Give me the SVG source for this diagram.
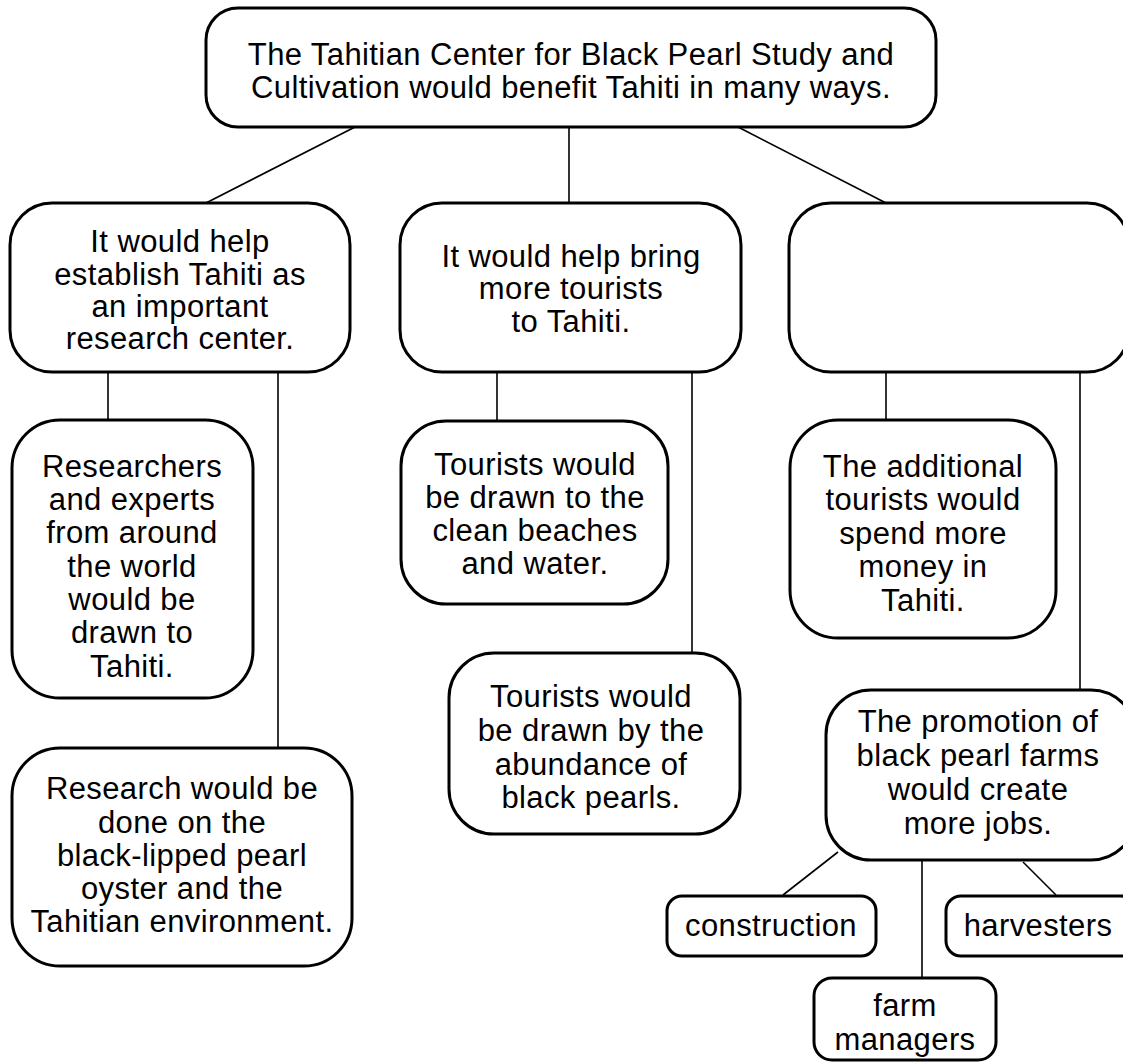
<svg xmlns="http://www.w3.org/2000/svg" width="1123" height="1063" viewBox="0 0 1123 1063">
<style>
.box{fill:#fff;stroke:#000;stroke-width:3}
.ln{stroke:#000;stroke-width:1.6;fill:none}
text{font-family:"Liberation Sans",Arial,sans-serif;font-size:31px;letter-spacing:0.4px;fill:#000;text-anchor:middle}
</style>
<rect width="1123" height="1063" fill="#fff"/>
<g id="connectors">
<line class="ln" x1="355" y1="127" x2="206" y2="203"/>
<line class="ln" x1="569" y1="127" x2="569" y2="203"/>
<line class="ln" x1="738" y1="127" x2="886" y2="203"/>
<line class="ln" x1="108" y1="372" x2="108" y2="420"/>
<line class="ln" x1="278" y1="372" x2="278" y2="748"/>
<line class="ln" x1="497" y1="372" x2="497" y2="421"/>
<line class="ln" x1="692" y1="372" x2="692" y2="653"/>
<line class="ln" x1="886" y1="372" x2="886" y2="420"/>
<line class="ln" x1="1080" y1="372" x2="1080" y2="690"/>
<line class="ln" x1="838" y1="852" x2="783" y2="895"/>
<line class="ln" x1="922" y1="860" x2="922" y2="978"/>
<line class="ln" x1="1023" y1="862" x2="1056" y2="895"/>
</g>
<g id="root"><rect class="box" x="206" y="8" width="730" height="119" rx="32"/>
<text x="571" y="65">The Tahitian Center for Black Pearl Study and</text>
<text x="571" y="98">Cultivation would benefit Tahiti in many ways.</text></g>
<g id="research-center"><rect class="box" x="10" y="203" width="340" height="169" rx="42"/>
<text x="180" y="252">It would help</text><text x="180" y="285">establish Tahiti as</text><text x="180" y="317">an important</text><text x="180" y="349">research center.</text></g>
<g id="tourists"><rect class="box" x="400" y="203" width="341" height="169" rx="42"/>
<text x="571" y="267">It would help bring</text><text x="571" y="299">more tourists</text><text x="571" y="332">to Tahiti.</text></g>
<g id="empty"><rect class="box" x="789" y="203" width="340" height="169" rx="42"/></g>
<g id="researchers"><rect class="box" x="12" y="420" width="241" height="278" rx="48"/>
<text x="132" y="477">Researchers</text><text x="132" y="510">and experts</text><text x="132" y="543">from around</text><text x="132" y="577">the world</text><text x="132" y="610">would be</text><text x="132" y="643">drawn to</text><text x="132" y="677">Tahiti.</text></g>
<g id="research"><rect class="box" x="12" y="748" width="340" height="218" rx="48"/>
<text x="182" y="799">Research would be</text><text x="182" y="833">done on the</text><text x="182" y="866">black-lipped pearl</text><text x="182" y="899">oyster and the</text><text x="182" y="932">Tahitian environment.</text></g>
<g id="beaches"><rect class="box" x="401" y="421" width="267" height="183" rx="45"/>
<text x="535" y="475">Tourists would</text><text x="535" y="508">be drawn to the</text><text x="535" y="541">clean beaches</text><text x="535" y="574">and water.</text></g>
<g id="pearls"><rect class="box" x="449" y="653" width="291" height="181" rx="45"/>
<text x="591" y="707">Tourists would</text><text x="591" y="741">be drawn by the</text><text x="591" y="775">abundance of</text><text x="591" y="808">black pearls.</text></g>
<g id="spend"><rect class="box" x="790" y="420" width="266" height="218" rx="48"/>
<text x="923" y="477">The additional</text><text x="923" y="510">tourists would</text><text x="923" y="544">spend more</text><text x="923" y="577">money in</text><text x="923" y="611">Tahiti.</text></g>
<g id="jobs"><rect class="box" x="826" y="690" width="310" height="170" rx="45"/>
<text x="978" y="732">The promotion of</text><text x="978" y="766">black pearl farms</text><text x="978" y="800">would create</text><text x="978" y="834">more jobs.</text></g>
<g id="construction"><rect class="box" x="667" y="896" width="209" height="60" rx="15"/>
<text x="771" y="936">construction</text></g>
<g id="harvesters"><rect class="box" x="946" y="896" width="190" height="60" rx="15"/>
<text x="1038" y="936">harvesters</text></g>
<g id="managers"><rect class="box" x="814" y="978" width="182" height="82" rx="18"/>
<text x="905" y="1016">farm</text><text x="905" y="1050">managers</text></g>
</svg>
